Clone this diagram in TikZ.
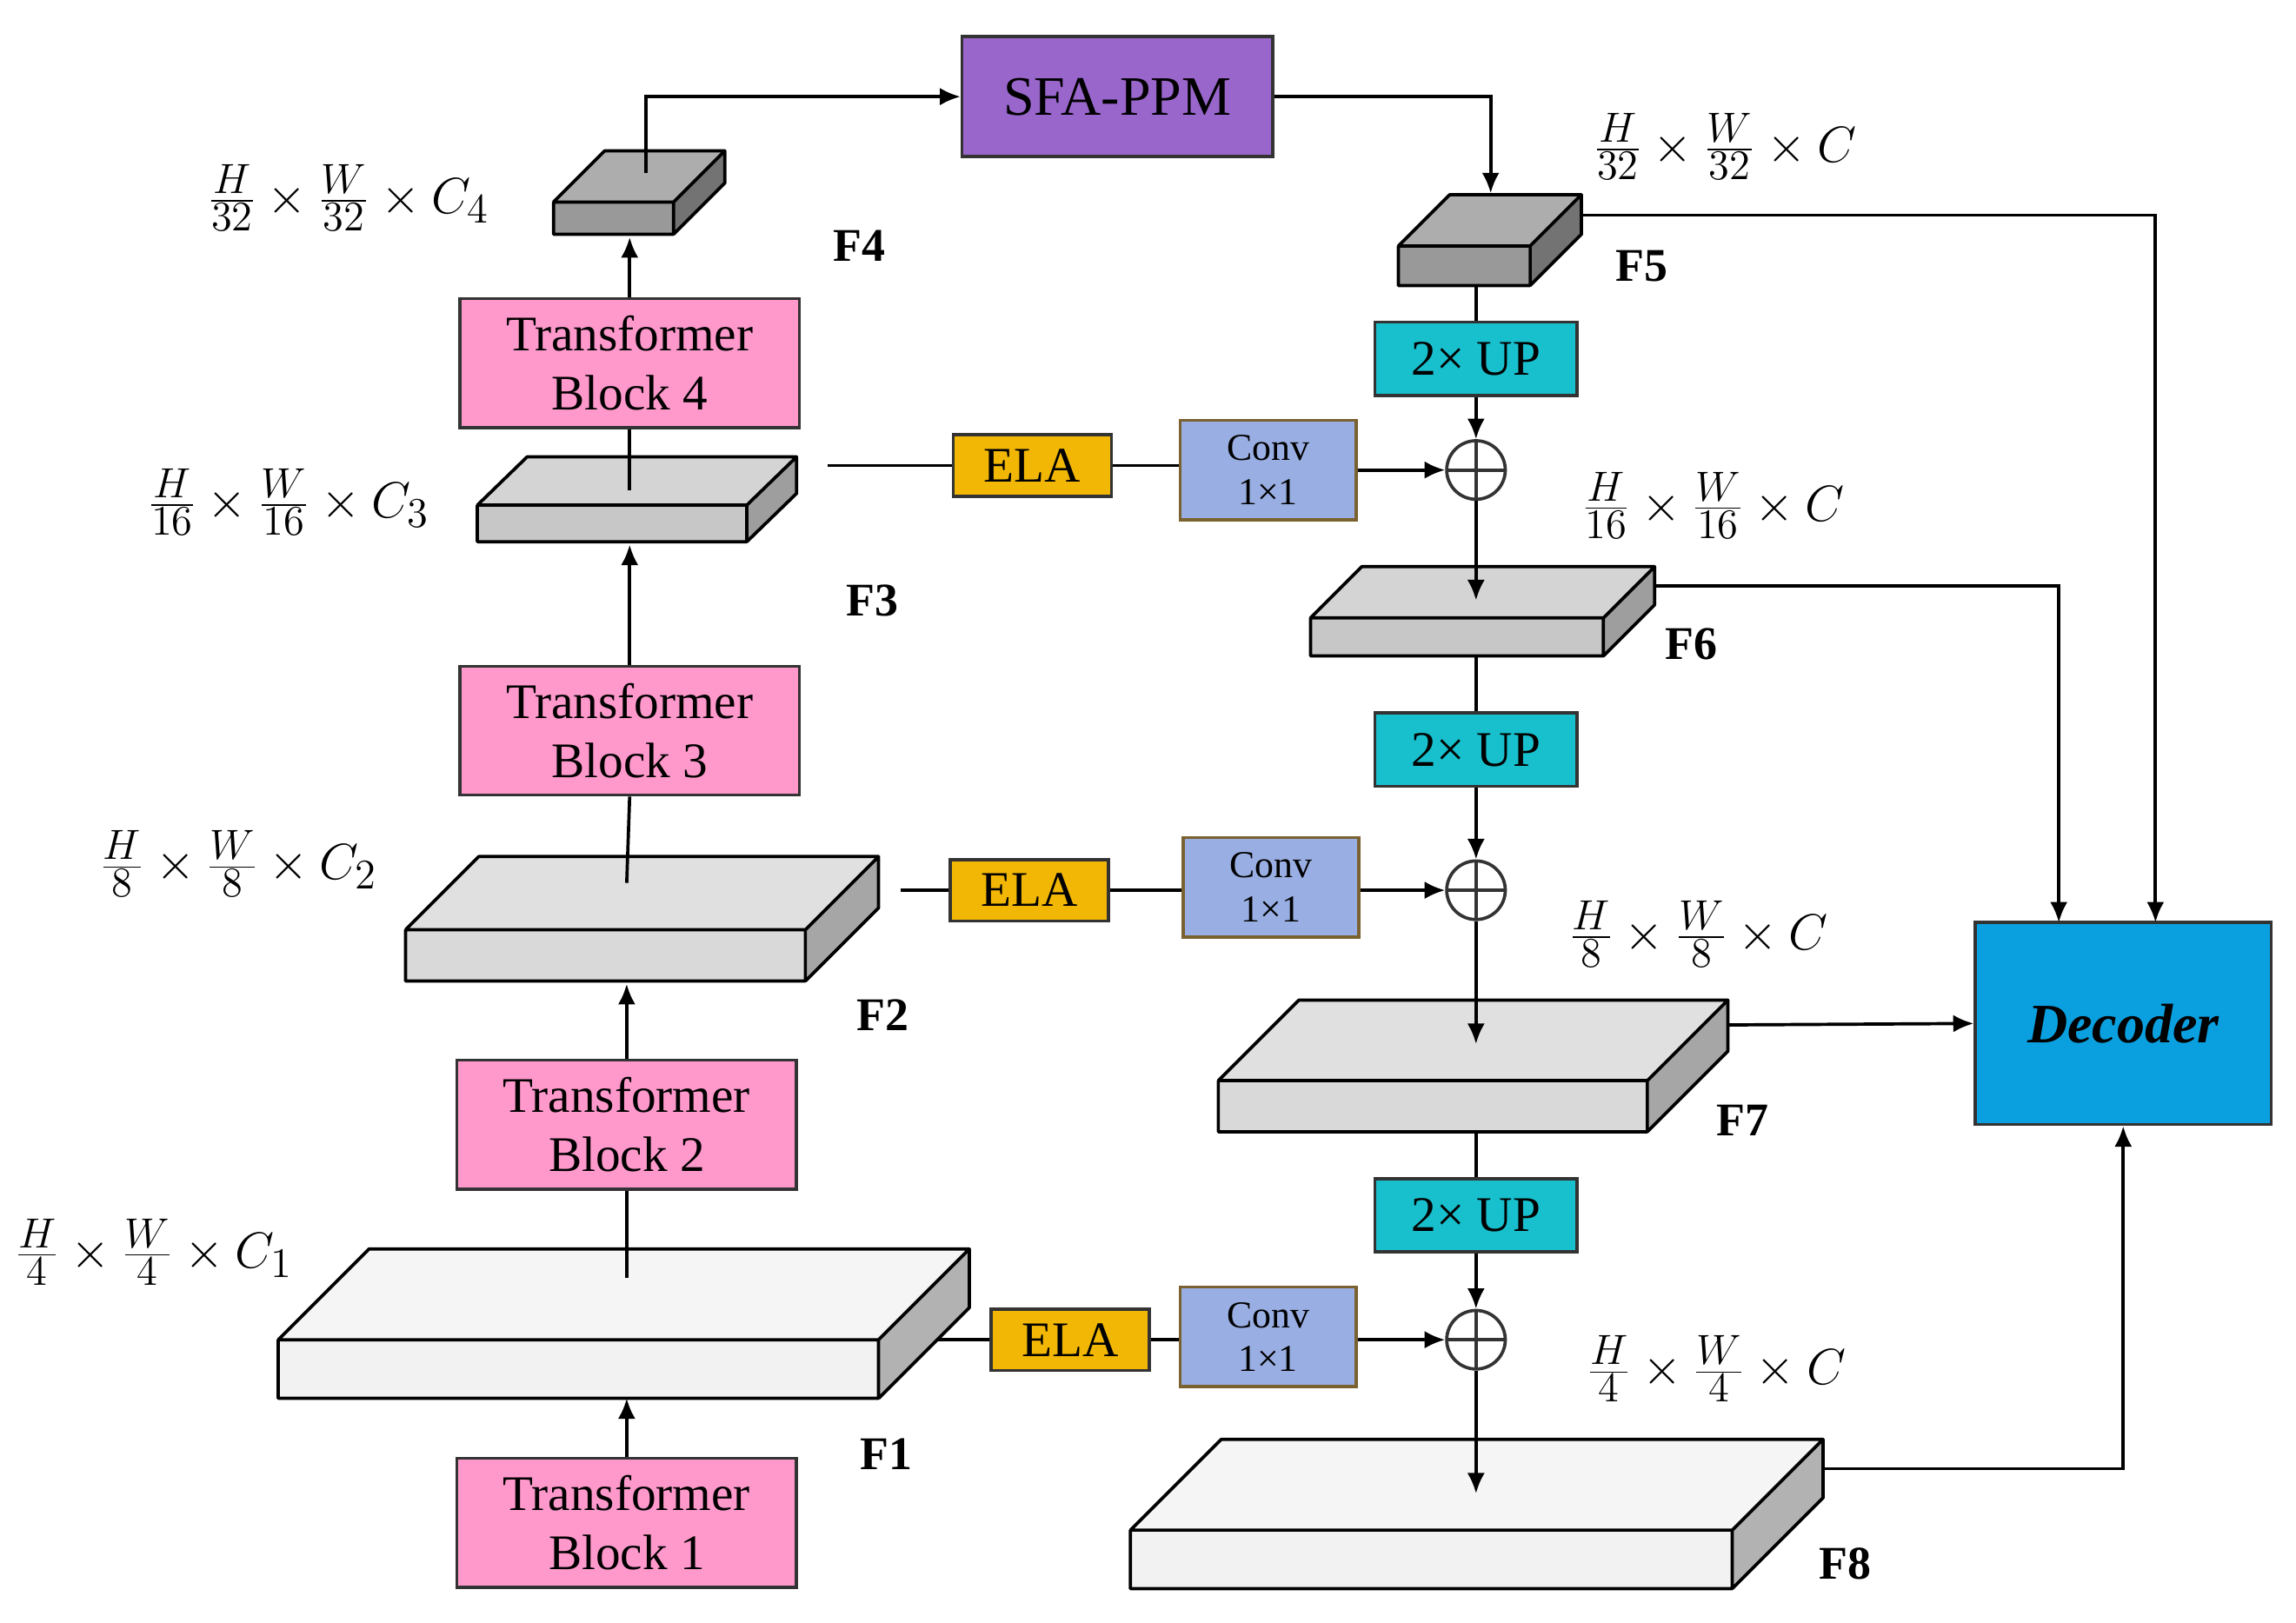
\documentclass[tikz,border=0pt]{standalone}
\usepackage{fontspec}
\setmainfont{Liberation Serif}
\usetikzlibrary{arrows.meta}
\definecolor{pinkb}{HTML}{FF99CC}
\definecolor{purp}{HTML}{9966CC}
\definecolor{dec}{HTML}{0AA0E0}
\definecolor{upc}{HTML}{18BFCC}
\definecolor{elac}{HTML}{F2B705}
\definecolor{convc}{HTML}{99AEE2}
\definecolor{convb}{HTML}{7A6230}
\newcommand{\cub}[9]{%
 \fill[#7] (#1,#2) rectangle (#3,#4);
 \fill[#8] (#1,#2) -- ++(#5,-#6) -- (#3+#5,#2-#6) -- (#3,#2) -- cycle;
 \fill[#9] (#3,#2) -- (#3+#5,#2-#6) -- (#3+#5,#4-#6) -- (#3,#4) -- cycle;
 \draw[line width=1.1pt,line join=round] (#1,#2) rectangle (#3,#4)
   (#1,#2) -- ++(#5,-#6) -- (#3+#5,#2-#6) -- (#3,#2)
   (#3+#5,#2-#6) -- (#3+#5,#4-#6) -- (#3,#4);}
\begin{document}
\begin{tikzpicture}[x=0.5pt,y=-0.5pt,
 box/.style={draw=black!80,line width=1.1pt,inner sep=0pt,font=\fontsize{17}{20}\selectfont,align=center},
 tb/.style={box,fill=pinkb,minimum width=116pt,minimum height=44pt},
 up/.style={box,fill=upc,minimum width=69pt,minimum height=25pt},
 ela/.style={box,fill=elac,minimum width=54pt,minimum height=21pt},
 conv/.style={box,draw=convb,fill=convc,minimum width=60pt,minimum height=34pt,font=\fontsize{13}{15}\selectfont},
 pl/.style={draw=black!80,line width=1.1pt,circle,minimum size=20pt,inner sep=0pt,path picture={\draw[line width=1.1pt] (path picture bounding box.north) -- (path picture bounding box.south) (path picture bounding box.west) -- (path picture bounding box.east);}},
 ar/.style={line width=1.1pt,-{Latex[length=7pt,width=6pt]}},
 ln/.style={line width=1.1pt},
 fl/.style={font=\bfseries\fontsize{16}{18}\selectfont},
 dm/.style={font=\fontsize{19}{22}\selectfont,inner sep=1pt}]
\useasboundingbox (0,0) rectangle (1568,1108);
% cuboids
\cub{378}{138}{460}{160}{35}{35}{black!40}{black!32}{black!55}
\cub{955}{168}{1045}{195}{35}{35}{black!40}{black!32}{black!55}
\cub{326}{345}{510}{370}{34}{33}{black!22}{black!17}{black!38}
\cub{895}{422}{1095}{448}{35}{35}{black!22}{black!17}{black!38}
\cub{277}{635}{550}{670}{50}{50}{black!15}{black!12}{black!35}
\cub{832}{738}{1125}{773}{55}{55}{black!15}{black!12}{black!35}
\cub{190}{915}{600}{955}{62}{62}{black!5}{black!4}{black!30}
\cub{772}{1045}{1183}{1085}{62}{62}{black!5}{black!4}{black!30}
% nodes
\node[tb] (tb4) at (430,248) {Transformer\\Block 4};
\node[tb] (tb3) at (430,499) {Transformer\\Block 3};
\node[tb] (tb2) at (428,768) {Transformer\\Block 2};
\node[tb] (tb1) at (428,1040) {Transformer\\Block 1};
\node[box,fill=purp,minimum width=106pt,minimum height=41pt,font=\fontsize{19}{22}\selectfont] (sfa) at (763,66) {SFA-PPM};
\node[box,fill=dec,minimum width=101pt,minimum height=69pt,font=\bfseries\itshape\fontsize{19}{22}\selectfont] (dec) at (1450,699) {Decoder};
\node[up] (up1) at (1008,245) {2× UP};
\node[up] (up2) at (1008,512) {2× UP};
\node[up] (up3) at (1008,830) {2× UP};
\node[ela] (e1) at (705,318) {ELA};
\node[ela] (e2) at (703,608) {ELA};
\node[ela] (e3) at (731,915) {ELA};
\node[conv] (c1) at (866,321) {Conv\\1×1};
\node[conv] (c2) at (868,606) {Conv\\1×1};
\node[conv] (c3) at (866,913) {Conv\\1×1};
\node[pl] (p1) at (1008,321) {};
\node[pl] (p2) at (1008,608) {};
\node[pl] (p3) at (1008,915) {};
% coordinates on cuboids
\coordinate (f1b) at (428,955); \coordinate (f1t) at (428,873); \coordinate (f1r) at (640,915);
\coordinate (f2b) at (428,672); \coordinate (f2t) at (428,603); \coordinate (f2r) at (615,608);
\coordinate (f3b) at (430,372); \coordinate (f3t) at (430,335); \coordinate (f3r) at (565,318);
\coordinate (f4b) at (430,162); \coordinate (f4t) at (441,118);
\coordinate (f5t) at (1018,132); \coordinate (f5b) at (1008,195); \coordinate (f5r) at (1080,147);
\coordinate (f6t) at (1008,410); \coordinate (f6b) at (1008,448); \coordinate (f6r) at (1130,400);
\coordinate (f7t) at (1008,713); \coordinate (f7b) at (1008,773); \coordinate (f7r) at (1180,700);
\coordinate (f8t) at (1008,1020); \coordinate (f8r) at (1245,1003);
% connectors encoder
\draw[ar] (tb1.north) -- (f1b);
\draw[ln] (f1t) -- (tb2.south);
\draw[ar] (tb2.north) -- (f2b);
\draw[ln] (f2t) -- (tb3.south);
\draw[ar] (tb3.north) -- (f3b);
\draw[ln] (f3t) -- (tb4.south);
\draw[ar] (tb4.north) -- (f4b);
\draw[ar] (f4t) |- (sfa.west);
\draw[ar] (sfa.east) -| (f5t);
\draw[ar] (f5r) -| (1472,630);
% decoder path
\draw[ln] (f5b) -- (up1.north); \draw[ar] (up1.south) -- (p1.north);
\draw[ln] (f3r) -- (e1.west); \draw[ln] (e1.east) -- (e1.east -| c1.west); \draw[ar] (c1.east |- p1.west) -- (p1.west);
\draw[ar] (p1.south) -- (f6t);
\draw[ar] (f6r) -| (1406,630);
\draw[ln] (f6b) -- (up2.north); \draw[ar] (up2.south) -- (p2.north);
\draw[ln] (f2r) -- (e2.west); \draw[ln] (e2.east) -- (e2.east -| c2.west); \draw[ar] (c2.east |- p2.west) -- (p2.west);
\draw[ar] (p2.south) -- (f7t);
\draw[ar] (f7r) -- (dec.west);
\draw[ln] (f7b) -- (up3.north); \draw[ar] (up3.south) -- (p3.north);
\draw[ln] (f1r) -- (e3.west); \draw[ln] (e3.east) -- (e3.east -| c3.west); \draw[ar] (c3.east |- p3.west) -- (p3.west);
\draw[ar] (p3.south) -- (f8t);
\draw[ar] (f8r) -| (dec.south);
% labels
\node[fl] (l4) at (587,168) {F4};
\node[fl] (l5) at (1121,182) {F5};
\node[fl] (l3) at (596,410) {F3};
\node[fl] (l6) at (1155,440) {F6};
\node[fl] (l2) at (603,693) {F2};
\node[fl] (l7) at (1190,765) {F7};
\node[fl] (l1) at (605,993) {F1};
\node[fl] (l8) at (1260,1068) {F8};
\node[dm] (d4) at (238,135) {$\frac{H}{32}\times\frac{W}{32}\times C_4$};
\node[dm] (d3) at (197,343) {$\frac{H}{16}\times\frac{W}{16}\times C_3$};
\node[dm] (d2) at (163,590) {$\frac{H}{8}\times\frac{W}{8}\times C_2$};
\node[dm] (d1) at (105,855) {$\frac{H}{4}\times\frac{W}{4}\times C_1$};
\node[dm] (d5) at (1178,100) {$\frac{H}{32}\times\frac{W}{32}\times C$};
\node[dm] (d6) at (1170,345) {$\frac{H}{16}\times\frac{W}{16}\times C$};
\node[dm] (d7) at (1160,638) {$\frac{H}{8}\times\frac{W}{8}\times C$};
\node[dm] (d8) at (1172,935) {$\frac{H}{4}\times\frac{W}{4}\times C$};
\end{tikzpicture}
\end{document}
